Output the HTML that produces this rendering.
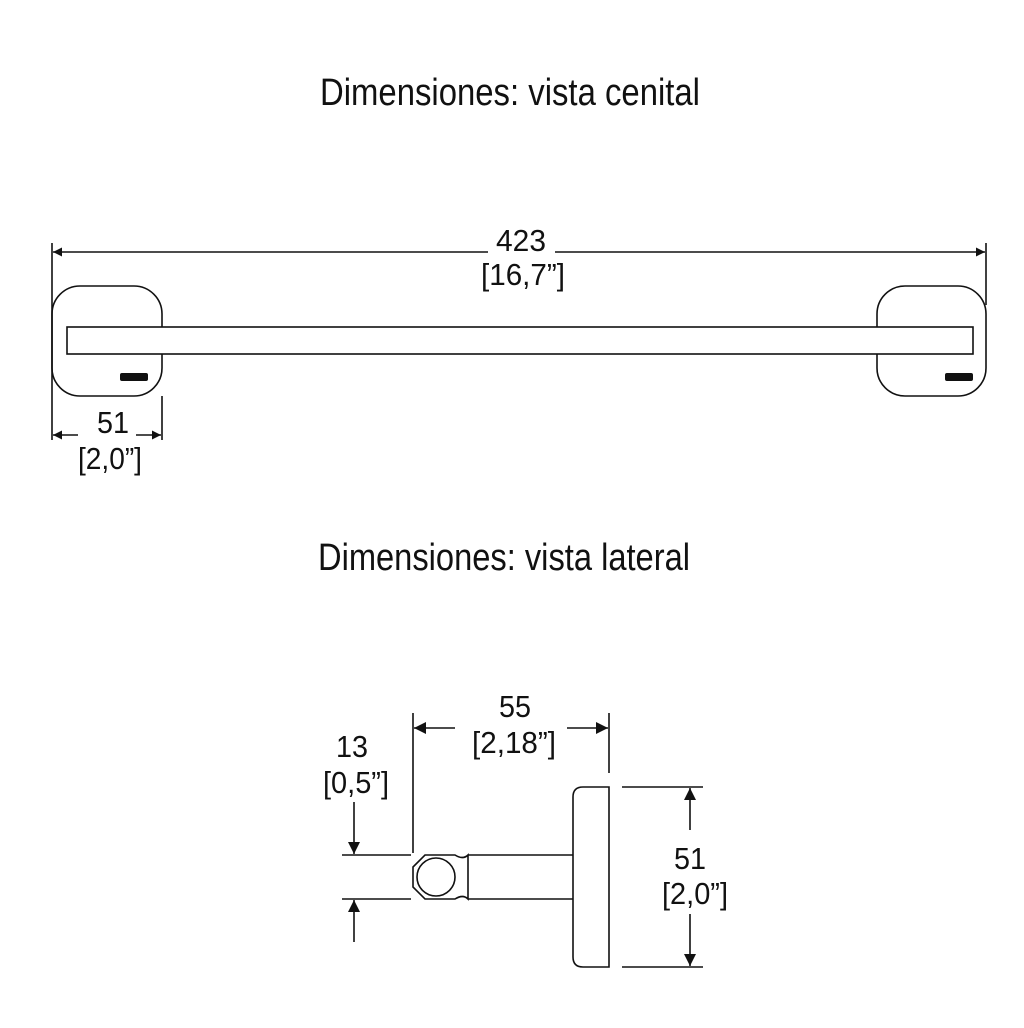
<!DOCTYPE html>
<html><head><meta charset="utf-8"><style>
html,body{margin:0;padding:0;background:#fff;}
svg{display:block;}
text{font-family:"Liberation Sans Narrow","Liberation Sans",sans-serif;fill:#111;}
</style></head><body>
<svg width="1024" height="1028" viewBox="0 0 1024 1028" xmlns="http://www.w3.org/2000/svg">
<defs>
<marker id="a" viewBox="0 0 10 10" refX="10" refY="5" markerWidth="14" markerHeight="9" markerUnits="userSpaceOnUse" orient="auto-start-reverse"><path d="M0,0L10,5L0,10z" fill="#111"/></marker>
<marker id="b" viewBox="0 0 10 10" refX="10" refY="5" markerWidth="16" markerHeight="12" markerUnits="userSpaceOnUse" orient="auto-start-reverse"><path d="M0,0L10,5L0,10z" fill="#111"/></marker>
</defs>
<text x="510" y="105" font-size="38" text-anchor="middle" textLength="380" lengthAdjust="spacingAndGlyphs">Dimensiones: vista cenital</text>
<text x="504" y="570" font-size="38" text-anchor="middle" textLength="372" lengthAdjust="spacingAndGlyphs">Dimensiones: vista lateral</text>
<g stroke="#111" stroke-width="1.6" fill="none">
<line x1="52" y1="243" x2="52" y2="440"/>
<line x1="986" y1="243" x2="986" y2="305"/>
<line x1="162" y1="396" x2="162" y2="440"/>
<line x1="53" y1="252" x2="488" y2="252" marker-start="url(#a)"/>
<line x1="555" y1="252" x2="985" y2="252" marker-end="url(#a)"/>
<rect x="52" y="286" width="110" height="110" rx="28"/>
<rect x="877" y="286" width="109" height="110" rx="28"/>
<rect x="67" y="327" width="906" height="27" fill="#fff"/>
<line x1="53" y1="435" x2="78" y2="435" marker-start="url(#a)"/>
<line x1="136" y1="435" x2="161" y2="435" marker-end="url(#a)"/>
<line x1="413" y1="713" x2="413" y2="853"/>
<line x1="609" y1="713" x2="609" y2="773"/>
<line x1="414" y1="728" x2="455" y2="728" marker-start="url(#b)"/>
<line x1="567" y1="728" x2="608" y2="728" marker-end="url(#b)"/>
<path d="M583,787 L609,787 L609,967 L583,967 Q573,967 573,957 L573,797 Q573,787 583,787 Z"/>
<line x1="468" y1="855" x2="573" y2="855"/>
<line x1="468" y1="899" x2="573" y2="899"/>
<path d="M425,855 L455,855 Q463,860 468,855 L468,899 Q463,894 455,899 L425,899 L413,887 L413,867 Z"/>
<circle cx="436" cy="877" r="19"/>
<line x1="342" y1="855" x2="411" y2="855"/>
<line x1="342" y1="899" x2="411" y2="899"/>
<line x1="354" y1="802" x2="354" y2="854" marker-end="url(#b)"/>
<line x1="354" y1="942" x2="354" y2="900" marker-end="url(#b)"/>
<line x1="622" y1="787" x2="703" y2="787"/>
<line x1="622" y1="967" x2="703" y2="967"/>
<line x1="690" y1="830" x2="690" y2="788" marker-end="url(#b)"/>
<line x1="690" y1="914" x2="690" y2="966" marker-end="url(#b)"/>
</g>
<rect x="120" y="373" width="28" height="8" rx="2" fill="#111"/>
<rect x="945" y="373" width="28" height="8" rx="2" fill="#111"/>
<g font-size="31" text-anchor="middle">
<text x="521" y="251" textLength="50" lengthAdjust="spacingAndGlyphs">423</text>
<text x="523" y="285" textLength="84" lengthAdjust="spacingAndGlyphs">[16,7”]</text>
<text x="113" y="433" textLength="32" lengthAdjust="spacingAndGlyphs">51</text>
<text x="110" y="469" textLength="64" lengthAdjust="spacingAndGlyphs">[2,0”]</text>
<text x="515" y="717" textLength="32" lengthAdjust="spacingAndGlyphs">55</text>
<text x="514" y="753" textLength="84" lengthAdjust="spacingAndGlyphs">[2,18”]</text>
<text x="352" y="757" textLength="32" lengthAdjust="spacingAndGlyphs">13</text>
<text x="356" y="793" textLength="66" lengthAdjust="spacingAndGlyphs">[0,5”]</text>
<text x="690" y="869" textLength="32" lengthAdjust="spacingAndGlyphs">51</text>
<text x="695" y="904" textLength="66" lengthAdjust="spacingAndGlyphs">[2,0”]</text>
</g>
</svg>
</body></html>
